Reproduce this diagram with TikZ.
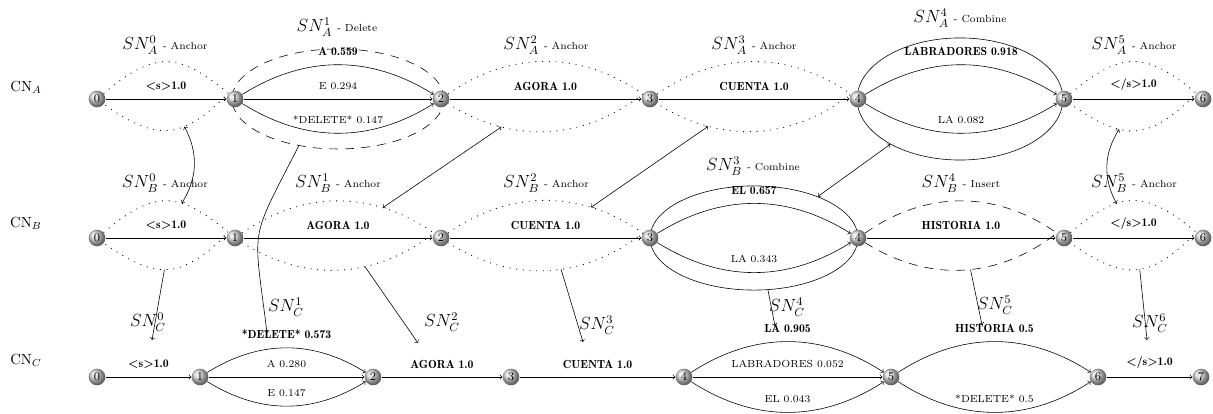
\documentclass[tikz,border=0pt]{standalone}
\usepackage{amsmath}
\usetikzlibrary{shapes.geometric}
\newcommand{\snlabel}[3]{{\large$SN_{#1}^{#2}$} {\scriptsize - #3}}

\begin{document}
\begin{tikzpicture}[>=to, x=0.24mm, y=0.24mm,
  vtx/.style={circle, shading=ball, ball color=gray!35, minimum size=4mm, inner sep=0pt, font=\footnotesize},
  lbl/.style={font=\scriptsize, above=3pt},
  blbl/.style={font=\footnotesize\fontseries{b}\selectfont, above=2.5pt},
  grpdot/.style={loosely dotted, line width=.6pt},
  grpdash/.style={dash pattern=on 6pt off 5pt},
  slens/.style={bend left=40, looseness=1.35},
  llens/.style={bend left=35}]
\useasboundingbox (0,0) rectangle (1213,414);

% the delete / combine groups
\node[ellipse, draw, grpdash, minimum width=50.9mm, minimum height=24mm] (sa1) at (338,315) {};
\node[ellipse, draw, minimum width=49.4mm, minimum height=29.3mm] (sa4) at (960,315) {};
\node[ellipse, draw, minimum width=49.9mm, minimum height=25mm] (sb3) at (754,176) {};

% the three networks
\foreach \i/\x in {0/97,1/235,2/441,3/650,4/858,5/1064,6/1203}
{
    \node[vtx] (a\i) at (\x,315) {\i};
    \node[vtx] (b\i) at (\x,176) {\i};
}
\foreach \i/\x in {0/97,1/200,2/373,3/511,4/684,5/891,6/1098,7/1201}
    \node[vtx] (c\i) at (\x,37) {\i};

\node (cna) at (26,327) {CN$_A$};
\node (cnb) at (26,191) {CN$_B$};
\node (cnc) at (26,54) {CN$_C$};

% anchor / insert groups
\draw[grpdot] (a0) to[slens] (a1) to[slens] coordinate[pos=.36] (sa0) (a0);
\draw[grpdot] (a2) to[llens] (a3) to[llens] coordinate[pos=.73] (sa2) (a2);
\draw[grpdot] (a3) to[llens] (a4) to[llens] coordinate[pos=.74] (sa3) (a3);
\draw[grpdot] (a5) to[slens] (a6) to[slens] coordinate[pos=.65] (sa5) (a5);
\draw[grpdot] (b0) to[slens] coordinate[pos=.64] (sb0t) (b1) to[slens] coordinate[pos=.54] (sb0) (b0);
\draw[grpdot] (b1) to[llens] coordinate[pos=.73] (sb1t) (b2) to[llens] coordinate[pos=.37] (sb1) (b1);
\draw[grpdot] (b2) to[llens] coordinate[pos=.73] (sb2t) (b3) to[llens] coordinate[pos=.43] (sb2) (b2);
\draw[grpdash] (b4) to[llens] (b5) to[llens] coordinate[pos=.46] (sb4) (b4);
\draw[grpdot] (b5) to[slens] coordinate[pos=.35] (sb5t) (b6) to[slens] coordinate[pos=.47] (sb5) (b5);

\node (ta0) at (165,369) {\snlabel{A}{0}{Anchor}};
\node (ta1) at (337,387) {\snlabel{A}{1}{Delete}};
\node (ta2) at (546,369) {\snlabel{A}{2}{Anchor}};
\node (ta3) at (754,369) {\snlabel{A}{3}{Anchor}};
\node (ta4) at (960,396) {\snlabel{A}{4}{Combine}};
\node (ta5) at (1134,369) {\snlabel{A}{5}{Anchor}};
\node (tb0) at (165,231) {\snlabel{B}{0}{Anchor}};
\node (tb1) at (338,231) {\snlabel{B}{1}{Anchor}};
\node (tb2) at (546,231) {\snlabel{B}{2}{Anchor}};
\node (tb3) at (753,248) {\snlabel{B}{3}{Combine}};
\node (tb4) at (961,231) {\snlabel{B}{4}{Insert}};
\node (tb5) at (1134,231) {\snlabel{B}{5}{Anchor}};

% CN_A
\draw[->] (a0) -- node[blbl] {<s>1.0} (a1);
\draw[->] (a1) to[bend left=32] node[blbl] {A 0.559} (a2);
\draw[->] (a1) -- node[lbl] {E 0.294} (a2);
\draw[->] (a1) to[bend right=32] node[lbl] {*DELETE* 0.147} (a2);
\draw[->] (a2) -- node[blbl] {AGORA 1.0} (a3);
\draw[->] (a3) -- node[blbl] {CUENTA 1.0} (a4);
\draw[->] (a4) to[bend left=32] node[blbl] {LABRADORES 0.918} (a5);
\draw[->] (a4) to[bend right=32] node[lbl] {LA 0.082} (a5);
\draw[->] (a5) -- node[blbl] {</s>1.0} (a6);

% CN_B
\draw[->] (b0) -- node[blbl] {<s>1.0} (b1);
\draw[->] (b1) -- node[blbl] {AGORA 1.0} (b2);
\draw[->] (b2) -- node[blbl] {CUENTA 1.0} (b3);
\draw[->] (b3) to[bend left=32] node[blbl] {EL 0.657} (b4);
\draw[->] (b3) to[bend right=32] node[lbl] {LA 0.343} (b4);
\draw[->] (b4) -- node[blbl] {HISTORIA 1.0} (b5);
\draw[->] (b5) -- node[blbl] {</s>1.0} (b6);

% CN_C
\draw[->] (c0) -- node[blbl] {<s>1.0} (c1);
\draw[->] (c1) to[bend left=32] node[blbl] {*DELETE* 0.573} (c2);
\draw[->] (c1) -- node[lbl] {A 0.280} (c2);
\draw[->] (c1) to[bend right=32] node[lbl] {E 0.147} (c2);
\draw[->] (c2) -- node[blbl] {AGORA 1.0} (c3);
\draw[->] (c3) -- node[blbl] {CUENTA 1.0} (c4);
\draw[->] (c4) to[bend left=33] node[blbl] {LA 0.905} (c5);
\draw[->] (c4) -- node[lbl] {LABRADORES 0.052} (c5);
\draw[->] (c4) to[bend right=33] node[lbl] {EL 0.043} (c5);
\draw[->] (c5) to[bend left=33] node[blbl] {HISTORIA 0.5} (c6);
\draw[->] (c5) to[bend right=33] node[lbl] {*DELETE* 0.5} (c6);
\draw[->] (c6) -- node[blbl] {</s>1.0} (c7);

% alignment between A and B
\draw[<->] (sa0) to[bend left=30] (sb0t);
\draw[<->] (sa2) -- (sb1t);
\draw[<->] (sa3) -- (sb2t);
\draw[<->] (sa4.213) -- (sb3.33);
\draw[<->] (sa5) to[bend right=30] (sb5t);

% resulting groups of C
\node[font=\large] (lc0) at (148,92) {$SN_C^0$};
\node[font=\large] (lc1) at (286,107) {$SN_C^1$};
\node[font=\large] (lc2) at (442,92) {$SN_C^2$};
\node[font=\large] (lc3) at (597,89) {$SN_C^3$};
\node[font=\large] (lc4) at (787,107) {$SN_C^4$};
\node[font=\large] (lc5) at (995,109) {$SN_C^5$};
\node[font=\large] (lc6) at (1150,91) {$SN_C^6$};
\coordinate (tc0) at (152,74);
\coordinate (tc1) at (267,81);
\coordinate (tc2) at (418,71);
\coordinate (tc3) at (583,72);
\coordinate (tc4) at (775,88);
\coordinate (tc5) at (982,89);
\coordinate (tc6) at (1147,74);
\draw[->] (sb0) -- (tc0);
\draw[->] (sa1.230) to[out=243, in=97, looseness=1.5] (tc1);
\draw[->] (sb1) -- (tc2);
\draw[->] (sb2) -- (tc3);
\draw[->] (sb3.285) -- (tc4);
\draw[->] (sb4) -- (tc5);
\draw[->] (sb5) -- (tc6);

\end{tikzpicture}
\end{document}
